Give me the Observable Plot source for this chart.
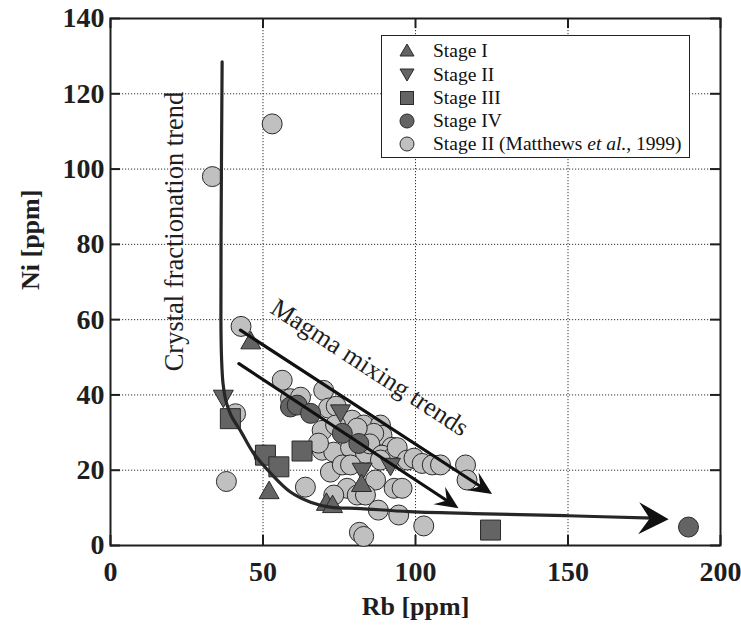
<!DOCTYPE html>
<html><head><meta charset="utf-8">
<script src="https://cdn.jsdelivr.net/npm/d3@7"></script>
<script src="https://cdn.jsdelivr.net/npm/@observablehq/plot@0.6"></script>
<style>
body{margin:0;background:#fff;}
#wrap{position:relative;width:741px;height:628px;}
#legend{position:absolute;left:381px;top:35px;width:307px;height:121px;border:1.5px solid #222;background:#fff;font-family:'Liberation Serif','Times New Roman',serif;font-size:19.5px;color:#111;}
.row{position:absolute;left:0;height:24px;line-height:24px;white-space:nowrap;}
.row svg{position:absolute;left:17px;top:4px;}
.row span{position:absolute;left:51px;top:0;}
</style>
</head><body>
<div id="wrap"><div id="legend"></div></div>
<script>
// ---- data (Rb ppm, Ni ppm) ----
const xTickVals = [0, 50, 100, 150, 200];
const yTickVals = [0, 20, 40, 60, 80, 100, 120, 140];
const xGrid = [50, 100, 150];
const yGrid = [20, 40, 60, 80, 100, 120];

const stageI = [[46, 54.5], [52, 14.7], [70.8, 11.6], [72.8, 11.0], [82.3, 16.6]];
const stageII = [[37, 39], [75.4, 35.1], [82.5, 19.6], [91.8, 20.9]];
const stageIII = [[39.3, 33.7], [50.8, 24], [55.2, 20.9], [62.8, 25.1], [124.6, 4.1]];
const stageIV = [[50.3, 24], [59, 36.8], [61.2, 37.3], [65.6, 35.1], [76, 29.8], [81.4, 27.1], [189.5, 4.9]];
const matthews = [
  [33.4, 98], [53, 112], [42.8, 58.2], [41, 35], [38, 17], [56.3, 43.9],
  [69.9, 41.2], [59, 39], [62.3, 39.4], [71.5, 36.5], [74, 37], [79.2, 33.3], [83, 32], [88.5, 32],
  [69.4, 30.6], [73.8, 32], [83.6, 28.8], [89, 29.3], [86.3, 29.8], [92.3, 26.1], [69.4, 25.3],
  [73.2, 24.8], [68.2, 27.2], [80.9, 31.2], [78.7, 26], [83.6, 24.5], [85, 27], [89, 24],
  [92.3, 23.2], [94, 26], [97.3, 22.7], [99.5, 23.2], [102.2, 21.8], [105.5, 21.4], [108.2, 21.4],
  [116.4, 21.4], [116.9, 17.4], [72.1, 19.5], [76, 21.4], [78.7, 21.4], [86.9, 17.4], [88.5, 22.7],
  [93, 15.2], [95.6, 15.2], [63.9, 15.5], [77.6, 15.2], [80.9, 13.4], [83.6, 13.4], [73.2, 13.4],
  [87.8, 9.4], [94.5, 8.1], [102.7, 5.2], [81.6, 3.5], [83, 2.4]
];
const fracCurve = [
  [36.6, 128.5], [36.3, 90], [36.2, 60], [36.4, 50], [36.9, 43], [37.9, 38.2], [39.5, 34.6],
  [42.6, 30.5], [46.9, 24.5], [52.5, 19.2], [59, 14.2], [65.6, 11.5], [72, 10.2], [82, 9.8],
  [98, 9.0], [123, 8.4], [150, 7.9], [178, 7.25]
];
const fracTip = [183, 7.0];
const mixStart = [[42.6, 57.2], [42.1, 48.3]];
const mixTip = [[125.1, 13.7], [114.1, 9.9]];

const legendLabels = ["Stage I", "Stage II", "Stage III", "Stage IV", "Stage II (Matthews <i>et al.</i>, 1999)"];
const annoText = ["Crystal fractionation trend", "Magma mixing trends"];
const annoPos = [[20.9, 83.4], [85.0, 47.3]];

// ---- layout ----
const W = 741, H = 628, mL = 110, mR = 21, mT = 18, mB = 83;
const innerW = W - mL - mR, innerH = H - mT - mB;
const darkFill = "#646464", lightFill = "#c0c0c0", edge = "#2a2a2a", ink = "#1e1e1e";

function poly(pts) {
  return {draw(ctx) { pts.forEach(([a, b], i) => i ? ctx.lineTo(a, b) : ctx.moveTo(a, b)); ctx.closePath(); }};
}
const triUp = poly([[0, -9], [10, 8.5], [-10, 8.5]]);
const triDown = poly([[0, 9], [10, -8.5], [-10, -8.5]]);
const square = poly([[-10, -10], [10, -10], [10, 10], [-10, 10]]);
function head(angle, L, Wd, N) {
  const c = Math.cos(angle), s = Math.sin(angle);
  return poly([[0, 0], [-L, -Wd], [-N, 0], [-L, Wd]].map(([a, b]) => [a * c - b * s, a * s + b * c]));
}

const base = {
  width: W, height: H, marginLeft: mL, marginRight: mR, marginTop: mT, marginBottom: mB,
  x: {domain: [0, 200], ticks: xTickVals, tickSize: 0, tickPadding: 16, label: null},
  y: {domain: [0, 140], ticks: yTickVals, tickSize: 0, tickPadding: 6, label: null},
  style: {fontFamily: "'Liberation Serif','Times New Roman',serif", fontSize: "28px", fontWeight: "bold", color: ink, background: "white"}
};

// probe to get scales for arrowhead angles
const probe = Plot.plot({...base, marks: [Plot.frame()]});
const psx = probe.scale("x"), psy = probe.scale("y");
const fx = d3.scaleLinear(psx.domain, psx.range), fy = d3.scaleLinear(psy.domain, psy.range);
const ang = (p, q) => Math.atan2(fy(q[1]) - fy(p[1]), fx(q[0]) - fx(p[0]));

const fracPrev = fracCurve[fracCurve.length - 2];
const heads = [
  {p: fracTip, sym: head(ang(fracPrev, fracTip), 30, 16, 19)},
  ...mixTip.map((t, i) => ({p: t, sym: head(ang(mixStart[i], t), 23, 10.5, 14)}))
];

const dotOpts = (sym, fill) => ({x: d => d[0], y: d => d[1], symbol: sym, r: 10, fill, stroke: edge, strokeWidth: 1});

const chart = Plot.plot({
  ...base,
  marks: [
    Plot.ruleX(xGrid, {stroke: "#333", strokeWidth: 1, strokeDasharray: "1.2,1.8"}),
    Plot.ruleY(yGrid, {stroke: "#333", strokeWidth: 1, strokeDasharray: "1.2,1.8"}),
    Plot.ruleX(xTickVals, {insetTop: innerH - 10, stroke: ink, strokeWidth: 2}),
    Plot.ruleX(xTickVals, {insetBottom: innerH - 10, stroke: ink, strokeWidth: 2}),
    Plot.ruleY(yTickVals, {insetRight: innerW - 10, stroke: ink, strokeWidth: 2}),
    Plot.ruleY(yTickVals, {insetLeft: innerW - 10, stroke: ink, strokeWidth: 2}),
    Plot.frame({stroke: ink, strokeWidth: 2}),
    Plot.dot(matthews, dotOpts("circle", lightFill)),
    Plot.dot(stageIV, dotOpts("circle", darkFill)),
    Plot.dot(stageIII, dotOpts(square, darkFill)),
    Plot.dot(stageII, dotOpts(triDown, darkFill)),
    Plot.dot(stageI, dotOpts(triUp, darkFill)),
    Plot.line(fracCurve, {x: d => d[0], y: d => d[1], curve: "catmull-rom", stroke: "#262626", strokeWidth: 3.2}),
    Plot.arrow(mixStart.map((s, i) => [s, mixTip[i]]), {
      x1: d => d[0][0], y1: d => d[0][1], x2: d => d[1][0], y2: d => d[1][1],
      headLength: 0, insetEnd: 10, stroke: "#111", strokeWidth: 3.2
    }),
    ...heads.map(h => Plot.dot([h.p], {x: d => d[0], y: d => d[1], symbol: h.sym, r: 10, fill: "#111", stroke: "none"})),
    Plot.text([annoText[0]], {x: () => annoPos[0][0], y: () => annoPos[0][1], text: d => d, rotate: -90, fontWeight: "normal", fontSize: 26.5, fill: ink}),
    Plot.text([annoText[1]], {x: () => annoPos[1][0], y: () => annoPos[1][1], text: d => d, rotate: 33, fontWeight: "normal", fontSize: 26, fill: ink}),
    Plot.text(["Ni [ppm]"], {frameAnchor: "left", dx: -80, dy: 8, rotate: -90, text: d => d, fontSize: 26, fontWeight: "bold", fill: ink}),
    Plot.text(["Rb [ppm]"], {frameAnchor: "bottom", dy: 69, text: d => d, fontSize: 26, fontWeight: "bold", fill: ink})
  ]
});
const wrap = document.getElementById("wrap");
wrap.insertBefore(chart, wrap.firstChild);

// legend
const legSyms = [
  '<polygon points="8,1 15,13 1,13" />',
  '<polygon points="8,14 15,2 1,2" />',
  '<rect x="1.5" y="1.5" width="13" height="13" />',
  '<circle cx="8" cy="8" r="7" />',
  '<circle cx="8" cy="8" r="7" />'
];
const legFills = [darkFill, darkFill, darkFill, darkFill, lightFill];
const legRowsY = [3, 26.5, 50, 73, 96];
const legend = document.getElementById("legend");
legendLabels.forEach((lab, i) => {
  const row = document.createElement("div");
  row.className = "row";
  row.style.top = legRowsY[i] + "px";
  row.innerHTML = `<svg width="16" height="16" fill="${legFills[i]}" stroke="${edge}" stroke-width="1">${legSyms[i]}</svg><span>${lab}</span>`;
  legend.appendChild(row);
});
</script>
</body></html>
